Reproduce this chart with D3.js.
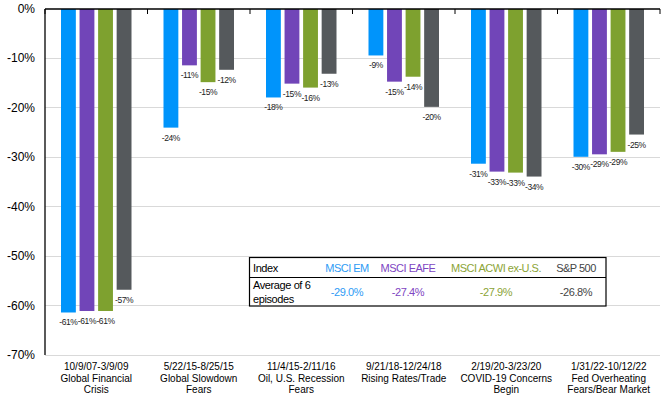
<!DOCTYPE html>
<html><head><meta charset="utf-8">
<script src="https://cdn.jsdelivr.net/npm/d3@7"></script>
<style>
body{margin:0;background:#fff;}
text{font-family:"Liberation Sans",Arial,sans-serif;}
</style></head>
<body><svg id="c" width="667" height="401"></svg>
<script>
const categories = [
  ["10/9/07-3/9/09","Global Financial","Crisis"],
  ["5/22/15-8/25/15","Global Slowdown","Fears"],
  ["11/4/15-2/11/16","Oil, U.S. Recession","Fears"],
  ["9/21/18-12/24/18","Rising Rates/Trade"],
  ["2/19/20-3/23/20","COVID-19 Concerns","Begin"],
  ["1/31/22-10/12/22","Fed Overheating","Fears/Bear Market"]
];
const seriesNames = ["MSCI EM","MSCI EAFE","MSCI ACWI ex-U.S.","S&P 500"];
const msciEM   = [-61.4,-24.0,-17.9,-9.4,-31.3,-29.9];
const msciEAFE = [-61.1,-11.4,-15.1,-14.7,-32.9,-29.4];
const msciACWI = [-61.1,-14.8,-15.9,-13.7,-33.1,-28.9];
const sp500    = [-56.8,-12.3,-13.1,-19.8,-33.9,-25.4];
const averages = ["-29.0%","-27.4%","-27.9%","-26.8%"];
const yTicks = [0,-10,-20,-30,-40,-50,-60,-70];
const barColors = ["#0094FB","#7145B8","#7EA12F","#55595C"];
const textColors = ["#2E9BF5","#7E45C2","#8BA436","#444444"];

const series = [msciEM, msciEAFE, msciACWI, sp500];
const svg = d3.select("#c");
const L = 45, R = 660, T = 9, B = 355;

const y = d3.scaleLinear().domain([-70,0]).range([B,T]);
const x0 = d3.scaleBand().domain(d3.range(categories.length)).range([L,R]).padding(0);
const x1 = d3.scaleBand().domain(d3.range(series.length)).range([16, x0.bandwidth()-16]).paddingInner(0.2).paddingOuter(0);

// gridlines
svg.append("g").selectAll("line").data(yTicks.filter(d=>d!==0)).join("line")
  .attr("x1",L).attr("x2",R).attr("y1",d=>y(d)).attr("y2",d=>y(d))
  .attr("stroke","#d9d9d9").attr("stroke-width",1).attr("shape-rendering","crispEdges");

// y tick labels
svg.append("g").selectAll("text").data(yTicks).join("text")
  .attr("x",35).attr("y",d=>y(d)+4).attr("text-anchor","end")
  .attr("font-size","12px").attr("fill","#000")
  .text(d=>d+"%");

// bars
const groups = svg.append("g").selectAll("g").data(categories).join("g")
  .attr("transform",(d,i)=>`translate(${x0(i)},0)`);
groups.each(function(cat,ci){
  const g = d3.select(this);
  const vals = series.map(s=>s[ci]);
  g.selectAll("rect").data(vals).join("rect")
    .attr("x",(d,si)=>x1(si)).attr("width",x1.bandwidth())
    .attr("y",y(0)).attr("height",d=>y(d)-y(0))
    .attr("fill",(d,si)=>barColors[si]);
  g.selectAll("text.lbl").data(vals).join("text").attr("class","lbl")
    .attr("x",(d,si)=>x1(si)+x1.bandwidth()/2).attr("y",d=>y(d)+13)
    .attr("text-anchor","middle").attr("font-size","8.5px").attr("letter-spacing","-0.4px")
    .attr("fill","#222").text(d=>Math.round(d)+"%");
});

// axes lines
svg.append("line").attr("x1",L).attr("x2",R).attr("y1",y(0)).attr("y2",y(0))
  .attr("stroke","#000").attr("stroke-width",1.3);
svg.append("line").attr("x1",L).attr("x2",L).attr("y1",y(0)).attr("y2",B)
  .attr("stroke","#000").attr("stroke-width",1.3);
svg.append("g").selectAll("line").data(d3.range(categories.length+1)).join("line")
  .attr("x1",i=>L+i*x0.step()).attr("x2",i=>L+i*x0.step())
  .attr("y1",y(0)).attr("y2",y(0)+5).attr("stroke","#000").attr("stroke-width",1);

// category labels
const cl = svg.append("g").selectAll("text").data(categories).join("text")
  .attr("x",(d,i)=>x0(i)+x0.bandwidth()/2).attr("y",370)
  .attr("text-anchor","middle").attr("font-size","10px").attr("fill","#000");
cl.each(function(lines){
  const t = d3.select(this);
  lines.forEach((ln,k)=>{
    t.append("tspan").attr("x",t.attr("x")).attr("y",370+k*11.6).text(ln);
  });
});

// summary table
const tb = svg.append("g");
tb.append("rect").attr("x",249.5).attr("y",257.5).attr("width",356.5).attr("height",48.5)
  .attr("fill","#fff").attr("stroke","#000").attr("stroke-width",1.2);
tb.append("line").attr("x1",249.5).attr("x2",606).attr("y1",277.5).attr("y2",277.5)
  .attr("stroke","#000").attr("stroke-width",1.2);
const colX = [347,408,496,576];
tb.append("text").attr("x",253).attr("y",271.5).attr("font-size","11px").attr("letter-spacing","-0.4px").text("Index");
tb.append("text").attr("x",253).attr("y",288.5).attr("font-size","11px").attr("letter-spacing","-0.4px").text("Average of 6");
tb.append("text").attr("x",253).attr("y",302.5).attr("font-size","11px").attr("letter-spacing","-0.4px").text("episodes");
tb.selectAll("text.h").data(seriesNames).join("text").attr("class","h")
  .attr("x",(d,i)=>colX[i]).attr("y",271.5).attr("text-anchor","middle")
  .attr("font-size","11px").attr("letter-spacing","-0.5px").attr("fill",(d,i)=>textColors[i]).text(d=>d);
tb.selectAll("text.v").data(averages).join("text").attr("class","v")
  .attr("x",(d,i)=>colX[i]).attr("y",295.5).attr("text-anchor","middle")
  .attr("font-size","11px").attr("letter-spacing","-0.4px").attr("fill",(d,i)=>textColors[i]).text(d=>d);
</script></body></html>
